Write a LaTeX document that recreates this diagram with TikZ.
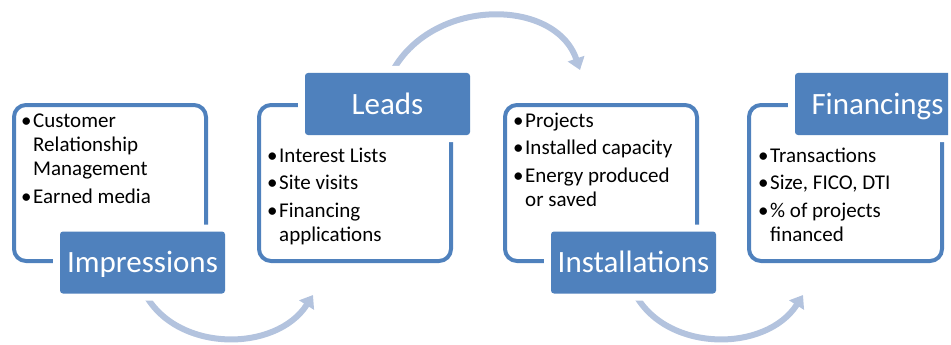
\documentclass[tikz,border=0pt]{standalone}
\usepackage{fontspec}
\setmainfont{Carlito}
\usetikzlibrary{arrows.meta}
\definecolor{ablue}{RGB}{79,129,189}
\definecolor{aarrow}{RGB}{179,195,222}
\newcommand{\bitem}[1]{\par\hangindent=12pt\hangafter=1\noindent\makebox[12pt][l]{•}#1}
\newcommand{\bodyfont}{\fontsize{21}{24.5}\selectfont\setlength{\parskip}{3pt}\setlength{\parindent}{0pt}}
\begin{document}
\begin{tikzpicture}[x=1pt,y=-1pt,
  frame/.style={draw=ablue,line width=4pt,rounded corners=12pt},
  tag/.style={fill=ablue,rounded corners=3pt,text=white,font=\fontsize{31}{36}\selectfont,
    minimum width=165pt,minimum height=62pt,inner sep=0pt,text height=20pt,text depth=0pt,
    preaction={draw=white,line width=14pt}},
  flow/.style={draw=aarrow,line width=6pt,-{Triangle[length=12pt,width=17pt]}},
  txt/.style={anchor=base west,inner sep=0pt}]
\useasboundingbox (0,0) rectangle (951,345);
\clip (0,0) rectangle (948,345);
% frames
\draw[frame] (14,105) rectangle (206,261);
\draw[frame] (259,105) rectangle (451,261);
\draw[frame] (505,105) rectangle (697,261);
\draw[frame] (749,105) rectangle (942,261);
% arrow end coordinates
\coordinate (a1s) at (391,74);
\coordinate (a1e) at (580,70);
\coordinate (a2s) at (144,292);
\coordinate (a2e) at (313,295);
\coordinate (a3s) at (634,292);
\coordinate (a3e) at (803,295);
\draw[flow] (a1s) .. controls (430,-3) and (555,-3) .. (a1e);
\draw[flow] (a2s) .. controls (175,353) and (276,353) .. (a2e);
\draw[flow] (a3s) .. controls (665,353) and (766,353) .. (a3e);
% labels
\node[tag] (imp) at (142.5,262.5) {Impressions};
\node[tag] (leads) at (387.5,104) {Leads};
\node[tag] (inst) at (633.5,262.5) {Installations};
\node[tag] (fin) at (877.5,104) {Financings};
% texts
\node[txt] (t1) at (21,127) {\parbox[t]{190pt}{\bodyfont
  \bitem{Customer\newline Relationship\newline Management}
  \bitem{Earned media}}};
\node[txt] (t2) at (267,162) {\parbox[t]{190pt}{\bodyfont
  \bitem{Interest Lists}
  \bitem{Site visits}
  \bitem{Financing\newline applications}}};
\node[txt] (t3) at (513,127) {\parbox[t]{190pt}{\bodyfont
  \bitem{Projects}
  \bitem{Installed capacity}
  \bitem{Energy produced\newline or saved}}};
\node[txt] (t4) at (758,162) {\parbox[t]{190pt}{\bodyfont
  \bitem{Transactions}
  \bitem{Size, FICO, DTI}
  \bitem{\% of projects\newline financed}}};
\end{tikzpicture}
\end{document}
